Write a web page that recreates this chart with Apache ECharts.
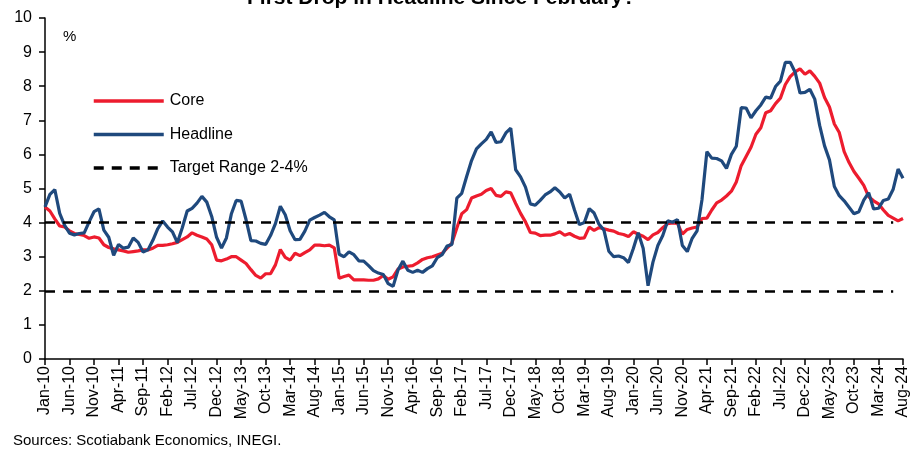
<!DOCTYPE html>
<html>
<head>
<meta charset="utf-8">
<script src="https://cdn.jsdelivr.net/npm/echarts@6/dist/echarts.min.js"></script>
<style>
html, body { margin: 0; padding: 0; background: #fff; }
#chart { width: 911px; height: 453px; }
</style>
</head>
<body>
<div id="chart"></div>
<script>
// Mexico CPI, y/y % change, monthly Jan-10 .. Aug-24
var monthNames = ['Jan','Feb','Mar','Apr','May','Jun','Jul','Aug','Sep','Oct','Nov','Dec'];
var years = ['10','11','12','13','14','15','16','17','18','19','20','21','22','23','24'];
var months = [];
years.forEach(function (y) {
	monthNames.forEach(function (m) {
		if (y === '24' && months.length >= 14 * 12 + 8) return;
		months.push(m + '-' + y);
	});
});

var headline = [
	4.46, 4.83, 4.97, 4.27, 3.92, 3.69, 3.64, 3.68, 3.70, 4.02, 4.32, 4.40,
	3.78, 3.57, 3.04, 3.36, 3.25, 3.28, 3.55, 3.42, 3.14, 3.20, 3.48, 3.82,
	4.05, 3.87, 3.73, 3.41, 3.85, 4.34, 4.42, 4.57, 4.77, 4.60, 4.18, 3.57,
	3.25, 3.55, 4.25, 4.65, 4.63, 4.09, 3.47, 3.46, 3.39, 3.36, 3.62, 3.97,
	4.48, 4.23, 3.76, 3.50, 3.51, 3.75, 4.07, 4.15, 4.22, 4.30, 4.17, 4.08,
	3.07, 3.00, 3.14, 3.06, 2.88, 2.87, 2.74, 2.59, 2.52, 2.48, 2.21, 2.13,
	2.61, 2.87, 2.60, 2.54, 2.60, 2.54, 2.65, 2.73, 2.97, 3.06, 3.31, 3.36,
	4.72, 4.86, 5.35, 5.82, 6.16, 6.31, 6.44, 6.66, 6.35, 6.37, 6.63, 6.77,
	5.55, 5.34, 5.04, 4.55, 4.51, 4.65, 4.81, 4.90, 5.02, 4.90, 4.72, 4.83,
	4.37, 3.94, 4.00, 4.41, 4.28, 3.95, 3.78, 3.16, 3.00, 3.02, 2.97, 2.83,
	3.24, 3.70, 3.25, 2.15, 2.84, 3.33, 3.62, 4.05, 4.01, 4.09, 3.33, 3.15,
	3.54, 3.76, 4.67, 6.08, 5.89, 5.88, 5.81, 5.59, 6.00, 6.24, 7.37, 7.36,
	7.07, 7.28, 7.45, 7.68, 7.65, 7.99, 8.15, 8.70, 8.70, 8.41, 7.80, 7.82,
	7.91, 7.62, 6.85, 6.25, 5.84, 5.06, 4.79, 4.64, 4.45, 4.26, 4.32, 4.66,
	4.88, 4.40, 4.42, 4.65, 4.69, 4.98, 5.57, 5.30
];

var core = [
	4.46, 4.34, 4.11, 3.90, 3.87, 3.76, 3.68, 3.65, 3.62, 3.54, 3.58, 3.55,
	3.35, 3.27, 3.23, 3.20, 3.17, 3.13, 3.15, 3.17, 3.20, 3.20, 3.25, 3.33,
	3.33, 3.35, 3.38, 3.42, 3.50, 3.58, 3.70, 3.63, 3.58, 3.52, 3.35, 2.90,
	2.88, 2.93, 3.00, 3.00, 2.90, 2.80, 2.62, 2.45, 2.37, 2.50, 2.50, 2.76,
	3.21, 2.98, 2.90, 3.10, 3.03, 3.12, 3.20, 3.34, 3.34, 3.32, 3.34, 3.26,
	2.37, 2.42, 2.46, 2.32, 2.32, 2.32, 2.31, 2.31, 2.35, 2.45, 2.34, 2.41,
	2.64, 2.70, 2.72, 2.74, 2.82, 2.92, 2.97, 3.00, 3.05, 3.10, 3.25, 3.40,
	3.84, 4.26, 4.38, 4.72, 4.78, 4.83, 4.94, 5.00, 4.80, 4.77, 4.90, 4.87,
	4.56, 4.27, 4.02, 3.71, 3.69, 3.62, 3.63, 3.63, 3.67, 3.73, 3.63, 3.68,
	3.60, 3.54, 3.55, 3.87, 3.77, 3.85, 3.82, 3.78, 3.75, 3.68, 3.65, 3.59,
	3.73, 3.66, 3.60, 3.50, 3.64, 3.71, 3.85, 3.97, 3.99, 3.98, 3.66, 3.80,
	3.84, 3.87, 4.12, 4.13, 4.37, 4.58, 4.66, 4.78, 4.92, 5.19, 5.67, 5.94,
	6.21, 6.59, 6.78, 7.22, 7.28, 7.49, 7.65, 8.05, 8.28, 8.42, 8.51, 8.35,
	8.45, 8.29, 8.09, 7.67, 7.39, 6.89, 6.64, 6.08, 5.76, 5.50, 5.30, 5.09,
	4.76, 4.64, 4.55, 4.37, 4.21, 4.13, 4.05, 4.12
];

var targetRange = [2, 4];
var yTicks = { min: 0, max: 10, step: 1 };

var font = 'Arial, "Liberation Sans", sans-serif';

var option = {
	animation: false,
	backgroundColor: '#fff',
	textStyle: { fontFamily: font, color: '#000' },
	graphic: [
		{
			type: 'text', left: 465 - 218, top: -12,
			style: { text: 'First Drop in Headline Since February?', font: 'bold 21px ' + font, fill: '#000' }
		},
		{
			type: 'text', left: 63, top: 29,
			style: { text: '%', font: '15px ' + font, fill: '#000' }
		},
		{
			type: 'text', left: 13, top: 433,
			style: { text: 'Sources: Scotiabank Economics, INEGI.', font: '15px ' + font, fill: '#000' }
		}
	],
	grid: { left: 45, right: 6, top: 18, bottom: 94 },
	legend: {
		left: 87,
		top: 88,
		orient: 'vertical',
		itemWidth: 70,
		itemHeight: 14,
		itemGap: 17.5,
		itemStyle: { opacity: 0 },
		lineStyle: { width: 3.5 },
		textStyle: { fontSize: 16, fontFamily: font, color: '#000', padding: [0, 0, 0, 1] },
		data: ['Core', 'Headline', 'Target Range 2-4%']
	},
	xAxis: {
		type: 'category',
		data: months,
		boundaryGap: false,
		axisLine: { lineStyle: { color: '#000', width: 1.5 } },
		axisTick: { interval: 4, length: 6, lineStyle: { color: '#000', width: 1.5 } },
		axisLabel: { interval: 4, rotate: 90, margin: 7, fontSize: 16, color: '#000', fontFamily: font }
	},
	yAxis: {
		type: 'value',
		min: yTicks.min,
		max: yTicks.max,
		interval: yTicks.step,
		splitLine: { show: false },
		axisLine: { show: true, lineStyle: { color: '#000', width: 1.5 } },
		axisTick: { show: true, length: 6, lineStyle: { color: '#000', width: 1.5 } },
		axisLabel: { margin: 13, fontSize: 16, color: '#000', fontFamily: font }
	},
	series: [
		{
			name: 'Core',
			type: 'line',
			data: core,
			symbol: 'none',
			showSymbol: false,
			z: 3,
			lineStyle: { color: 'rgb(237,28,46)', width: 3.2 },
			itemStyle: { color: 'rgb(237,28,46)' }
		},
		{
			name: 'Headline',
			type: 'line',
			data: headline,
			symbol: 'none',
			showSymbol: false,
			z: 4,
			lineStyle: { color: 'rgb(31,73,125)', width: 3.2 },
			itemStyle: { color: 'rgb(31,73,125)' }
		},
		{
			name: 'Target Range 2-4%',
			type: 'line',
			data: [],
			symbol: 'none',
			showSymbol: false,
			z: 2,
			lineStyle: { color: '#000', width: 2.5, type: [10, 8] },
			itemStyle: { color: '#000' },
			markLine: {
				silent: true,
				symbol: 'none',
				label: { show: false },
				lineStyle: { color: '#000', width: 2.5, type: [10, 8] },
				data: targetRange.map(function (v) {
					return [{ coord: [0, v] }, { coord: [months.length - 3, v] }];
				})
			}
		}
	]
};

var chart = echarts.init(document.getElementById('chart'));
chart.setOption(option);
</script>
</body>
</html>
